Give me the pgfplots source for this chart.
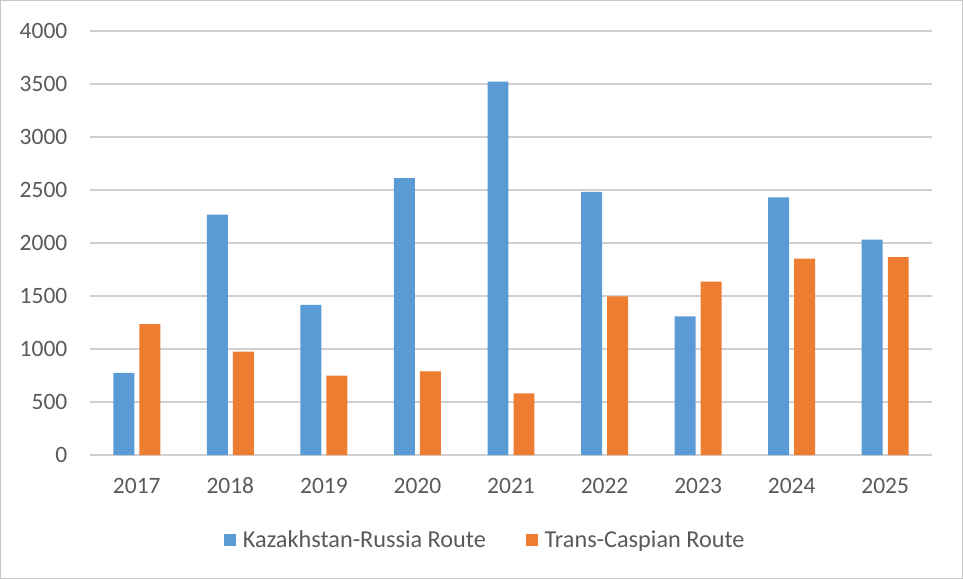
\documentclass[border=0pt]{standalone}
\usepackage{pgfplots}
\pgfplotsset{compat=1.18}
\usepackage{fontspec}
\setmainfont{Carlito}
\definecolor{kzblue}{HTML}{5B9BD5}
\definecolor{tcorange}{HTML}{ED7D31}
\definecolor{txtgray}{HTML}{595959}
\definecolor{gridgray}{HTML}{D0D0D0}
\begin{document}
\begin{tikzpicture}
\path[draw=gray!45, line width=0.8pt] (0.4pt,0.4pt) rectangle (721.85pt,433.85pt);
\begin{axis}[
  at={(67.5pt,93pt)}, anchor=south west,
  width=631.5pt, height=318pt, scale only axis,
  xmin=-0.5, xmax=8.5, ymin=0, ymax=4000,
  ytick={0,500,...,4000},
  xtick={0,...,8},
  xticklabels={2017,2018,2019,2020,2021,2022,2023,2024,2025},
  axis line style={draw=none},
  major tick length=0pt,
  ymajorgrids, grid style={gridgray, line width=0.8pt},
  /pgf/number format/assume math mode=true,
  /pgf/number format/1000 sep={},
  tick label style={font=\fontsize{17.6}{20}\selectfont, text=txtgray},
  xticklabel style={anchor=base, yshift=-29pt},
  yticklabel style={xshift=-13.5pt},
  ybar, bar width=0.224,
  legend style={at={(0.47,-0.2)}, anchor=center, draw=none, fill=none,
    font=\fontsize{18.2}{20}\selectfont, text=txtgray,
    legend columns=2,
    /tikz/every even column/.append style={column sep=28pt}},
  legend image code/.code={\fill[#1] (0pt,-4.5pt) rectangle (9pt,4.5pt);
    \path (0pt,0pt) -- (12pt,0pt);},
]
\addplot[fill=kzblue, draw=none, bar shift=-0.139] coordinates {
(0,774) (1,2267) (2,1416) (3,2612) (4,3522) (5,2483) (6,1308) (7,2431) (8,2033)};
\addlegendentry{Kazakhstan-Russia Route}
\addplot[fill=tcorange, draw=none, bar shift=0.139] coordinates {
(0,1234) (1,976) (2,750) (3,788) (4,582) (5,1496) (6,1636) (7,1852) (8,1866)};
\addlegendentry{Trans-Caspian Route}
\end{axis}
\end{tikzpicture}
\end{document}
